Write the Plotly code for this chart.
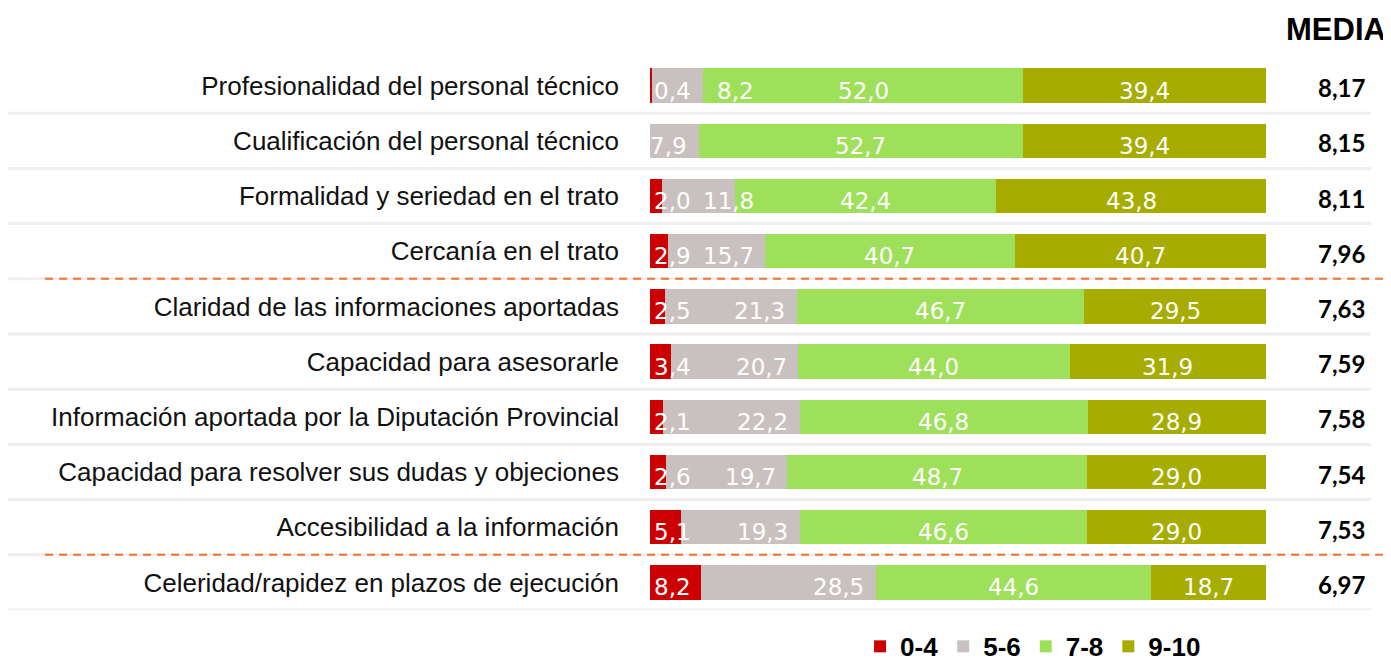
import plotly.graph_objects as go

categories = [
    "Profesionalidad del personal técnico",
    "Cualificación del personal técnico",
    "Formalidad y seriedad en el trato",
    "Cercanía en el trato",
    "Claridad de las informaciones aportadas",
    "Capacidad para asesorarle",
    "Información aportada por la Diputación Provincial",
    "Capacidad para resolver sus dudas y objeciones",
    "Accesibilidad a la información",
    "Celeridad/rapidez en plazos de ejecución",
]
series_names = ["0-4", "5-6", "7-8", "9-10"]
v04 = [0.4, 0.0, 2.0, 2.9, 2.5, 3.4, 2.1, 2.6, 5.1, 8.2]
v56 = [8.2, 7.9, 11.8, 15.7, 21.3, 20.7, 22.2, 19.7, 19.3, 28.5]
v78 = [52.0, 52.7, 42.4, 40.7, 46.7, 44.0, 46.8, 48.7, 46.6, 44.6]
v910 = [39.4, 39.4, 43.8, 40.7, 29.5, 31.9, 28.9, 29.0, 29.0, 18.7]
media = [8.17, 8.15, 8.11, 7.96, 7.63, 7.59, 7.58, 7.54, 7.53, 6.97]
media_title = "MEDIA"
group_breaks = [3.5, 8.5]  # dashed separators between groups of rows

colors = ["#CC0000", "#C9C1BF", "#9FE05A", "#A6AD00"]


def fmt(v, d=1):
    return f"{v:.{d}f}".replace(".", ",")


fig = go.Figure()
for name, vals, col in zip(series_names, [v04, v56, v78, v910], colors):
    fig.add_trace(go.Bar(
        orientation="h", x=vals, y=categories, name=name,
        marker=dict(color=col, line=dict(width=0)), width=0.62,
        hoverinfo="x+y",
    ))

label_font = dict(family="DejaVu Sans", size=23, color="white")
annotations = []
for cat, a, b, c, d, m in zip(categories, v04, v56, v78, v910, media):
    common = dict(y=cat, xref="x", yref="y", showarrow=False, yshift=-5, font=label_font)
    if a > 0:
        annotations.append(dict(x=0, text=fmt(a), xanchor="left", xshift=2, **common))
    gx = a + b - 1.6
    if a > 0:
        gx = max(gx, 17.2)
    annotations.append(dict(x=gx, text=fmt(b), xanchor="right", **common))
    annotations.append(dict(x=a + b + c / 2, text=fmt(c), xanchor="center", **common))
    annotations.append(dict(x=a + b + c + d / 2, text=fmt(d), xanchor="center", **common))
    annotations.append(dict(x=1.123, y=cat, xref="paper", yref="y", showarrow=False, yshift=-2,
                            text=fmt(m, 2), xanchor="center",
                            font=dict(family="Lato", size=24, color="black", weight="bold")))

annotations.append(dict(x=1.1136, y=1.052, xref="paper", yref="paper", showarrow=False,
                        text=media_title, xanchor="center", yanchor="middle",
                        font=dict(family="Liberation Sans", size=31, color="black", weight="bold")))

shapes = []
for i in range(len(categories)):
    shapes.append(dict(type="line", xref="paper", yref="y", x0=-1.0438, x1=1.1705,
                       y0=i + 0.5, y1=i + 0.5, line=dict(color="#EEEEEE", width=3), layer="below"))
for yb in group_breaks:
    shapes.append(dict(type="line", xref="paper", yref="y", x0=-0.982, x1=1.21,
                       y0=yb, y1=yb, line=dict(color="#EE7433", width=2, dash="8px,6px")))

# the page body adds an 8px offset, so the figure is sized/placed to compensate
fig.update_layout(
    barmode="stack",
    width=1383, height=668,
    margin=dict(l=642, r=125, t=50, b=66, autoexpand=False),
    plot_bgcolor="white", paper_bgcolor="white",
    xaxis=dict(range=[0, 100], showticklabels=False, showgrid=False, zeroline=False,
               showline=False, fixedrange=True),
    yaxis=dict(categoryorder="array", categoryarray=categories, range=[9.5, -0.5],
               showgrid=False, zeroline=False, showline=False, ticks="",
               ticklabelstandoff=30,
               tickfont=dict(family="Liberation Sans", size=26, color="#111111")),
    legend=dict(orientation="h", x=0.341, y=-0.066, xanchor="left", yanchor="middle",
                font=dict(family="Liberation Sans", size=26, color="black", weight="bold"),
                traceorder="normal", bgcolor="rgba(0,0,0,0)"),
    annotations=annotations,
    shapes=shapes,
    showlegend=True,
)

fig.write_html("out.html")
